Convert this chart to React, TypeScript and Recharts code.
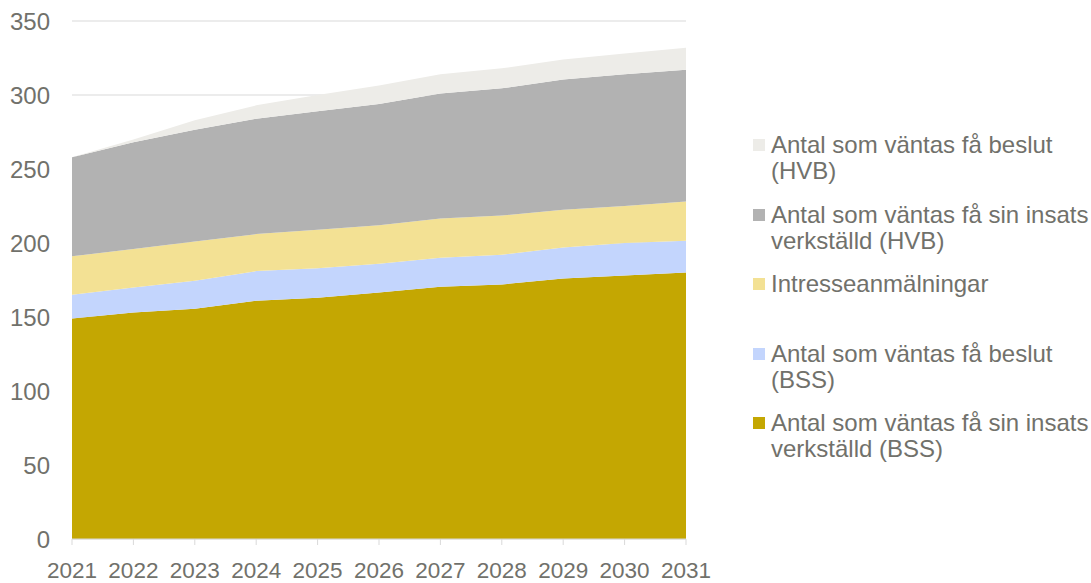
import { AreaChart, Area, XAxis, YAxis, CartesianGrid } from "recharts";

const years = ["2021", "2022", "2023", "2024", "2025", "2026", "2027", "2028", "2029", "2030", "2031"];

// values per series (stacked, bottom to top)
const bssVerkstalld = [149, 153, 155.5, 161, 163, 166.5, 170.5, 172, 176, 178, 180];
const bssBeslut = [16, 17, 19, 20, 20, 19.5, 19.5, 20, 21, 22, 21.5];
const intresse = [26, 26, 26.5, 25, 26, 26, 26.5, 26.5, 25.5, 25, 26.5];
const hvbVerkstalld = [67, 72, 75.5, 78, 80, 82, 84.5, 86, 88, 89, 89];
const hvbBeslut = [0, 2, 6.5, 9, 11, 12.5, 13, 13.5, 13.5, 14, 15];

const yTicks = [0, 50, 100, 150, 200, 250, 300, 350];

const series = [
  { key: "bssVerkstalld", values: bssVerkstalld, color: "#c4a702", lines: ["Antal som väntas få sin insats", "verkställd (BSS)"] },
  { key: "bssBeslut", values: bssBeslut, color: "#c3d5fd", lines: ["Antal som väntas få beslut", "(BSS)"] },
  { key: "intresse", values: intresse, color: "#f3e194", lines: ["Intresseanmälningar"] },
  { key: "hvbVerkstalld", values: hvbVerkstalld, color: "#b2b2b2", lines: ["Antal som väntas få sin insats", "verkställd (HVB)"] },
  { key: "hvbBeslut", values: hvbBeslut, color: "#edece8", lines: ["Antal som väntas få beslut", "(HVB)"] },
];

const data = years.map((year, i) => {
  const row: Record<string, string | number> = { year };
  series.forEach((s) => (row[s.key] = s.values[i]));
  return row;
});

const FONT = "'Liberation Sans', Arial, sans-serif";
const TEXT = "#71716b";

function ChartLegend() {
  const items = [...series].reverse();
  return (
    <div style={{ position: "absolute", left: 753, top: 132, fontFamily: FONT, fontSize: 24, color: TEXT }}>
      {items.map((s) => (
        <div key={s.key} style={{ display: "flex", height: 69.5 }}>
          <div style={{ width: 12, height: 12, marginTop: 7, background: s.color, flex: "none" }} />
          <div style={{ marginLeft: 6, lineHeight: "26px", whiteSpace: "nowrap" }}>
            {s.lines.map((l) => (
              <div key={l}>{l}</div>
            ))}
          </div>
        </div>
      ))}
    </div>
  );
}

export default function App() {
  return (
    <div style={{ position: "absolute", left: 0, top: 0, width: 1091, height: 583, background: "#fff", overflow: "hidden" }}>
      <AreaChart width={1091} height={583} data={data} margin={{ top: 21, right: 405, bottom: 0, left: 0 }}>
        <CartesianGrid vertical={false} stroke="#d9d9d9" />
        <XAxis
          dataKey="year"
          height={44}
          tickSize={6}
          tickMargin={17}
          interval={0}
          stroke="#d9d9d9"
          tick={{ fill: TEXT, fontSize: 22.5, fontFamily: FONT }}
        />
        <YAxis
          width={72}
          domain={[0, 350]}
          ticks={yTicks}
          axisLine={false}
          tickLine={false}
          tickSize={0}
          tickMargin={22}
          tick={{ fill: TEXT, fontSize: 24, fontFamily: FONT }}
        />
        {series.map((s) => (
          <Area
            key={s.key}
            type="linear"
            dataKey={s.key}
            stackId="a"
            stroke="none"
            fill={s.color}
            fillOpacity={1}
            isAnimationActive={false}
          />
        ))}
      </AreaChart>
      <ChartLegend />
    </div>
  );
}
